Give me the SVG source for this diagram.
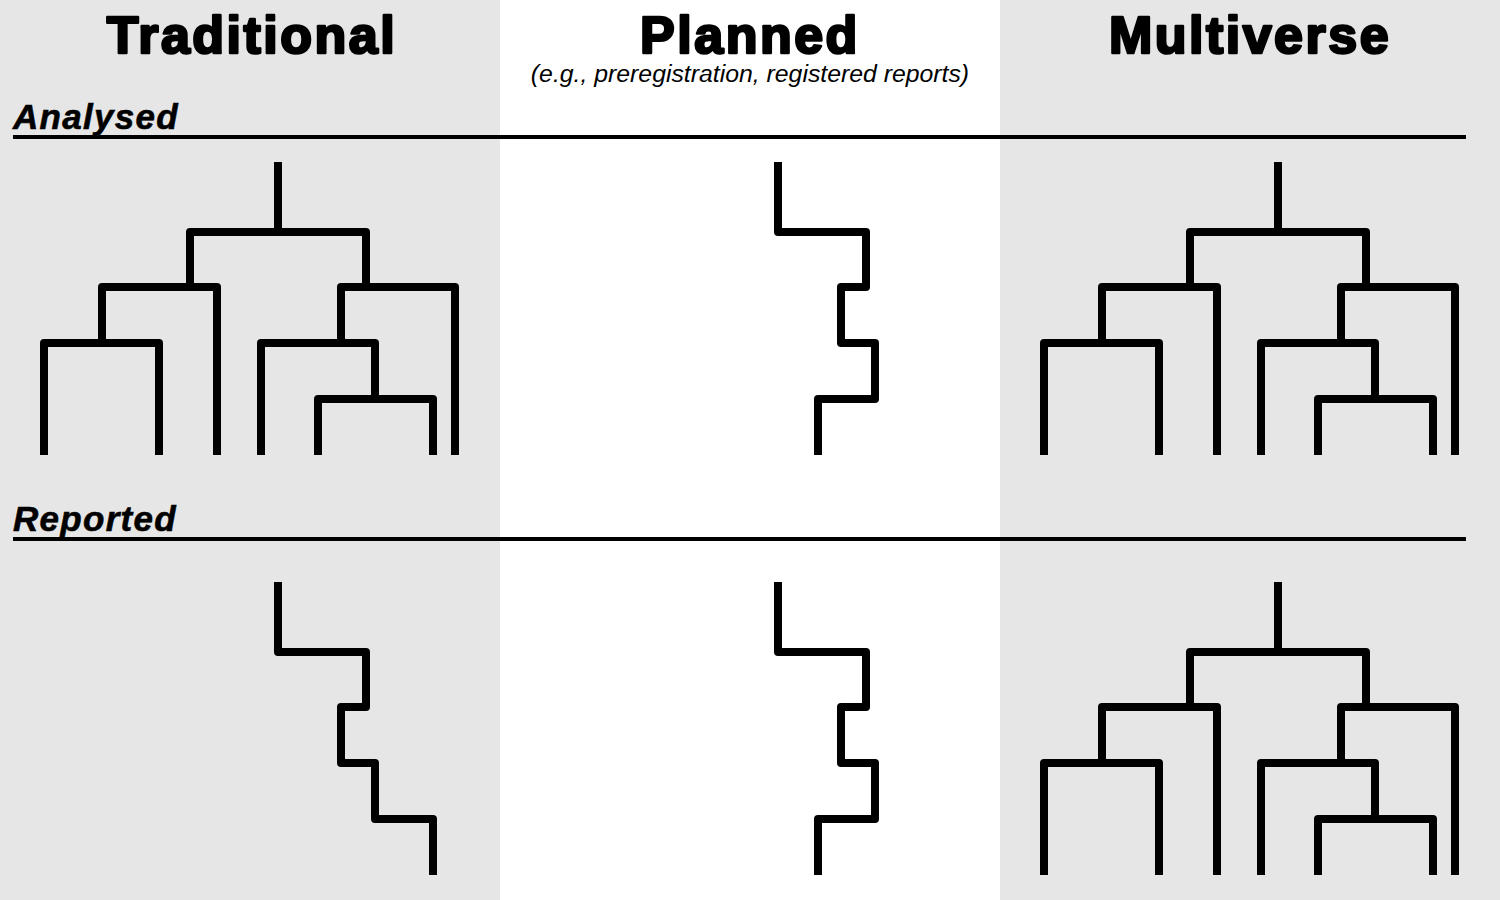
<svg xmlns="http://www.w3.org/2000/svg" xmlns:xlink="http://www.w3.org/1999/xlink" width="1500" height="900" viewBox="0 0 1500 900">
  <style>
    .bg { fill: #e6e6e6; }
    .title { font-family: "Liberation Sans", Arial, sans-serif; font-weight: bold; font-size: 52px; letter-spacing: 2.5px; fill: #000; stroke: #000; stroke-width: 2.6; stroke-linejoin: round; text-anchor: middle; }
    .sub { font-family: "Liberation Sans", Arial, sans-serif; font-style: italic; font-size: 24.8px; fill: #000; text-anchor: middle; }
    .row { font-family: "Liberation Sans", Arial, sans-serif; font-style: italic; font-weight: bold; font-size: 35px; letter-spacing: 1.3px; fill: #000; stroke: #000; stroke-width: 0.6; }
    .rule { stroke: #000; stroke-width: 4; fill: none; }
    .br { stroke: #000; stroke-width: 8; fill: none; stroke-linejoin: round; stroke-linecap: butt; }
  </style>
  <defs>
    <g id="fulltree">
      <path class="br" d="M278 162 V232"/>
      <path class="br" d="M190 287 V232 H366 V287"/>
      <path class="br" d="M102 343 V287 H217 V455"/>
      <path class="br" d="M44 455 V343 H159 V455"/>
      <path class="br" d="M341 343 V287 H455 V455"/>
      <path class="br" d="M261 455 V343 H375 V399"/>
      <path class="br" d="M318 455 V399 H433 V455"/>
    </g>
    <path id="planpath" class="br" d="M778 162 V232 H866 V287 H841 V343 H875 V399 H818 V455"/>
  </defs>

  <rect x="0" y="0" width="1500" height="900" fill="#ffffff"/>
  <rect class="bg" x="0" y="0" width="500" height="900"/>
  <rect class="bg" x="1000" y="0" width="500" height="900"/>

  <g id="headers">
    <text class="title" x="252" y="53">Traditional</text>
    <text class="title" x="750" y="53">Planned</text>
    <text class="sub" x="750" y="82">(e.g., preregistration, registered reports)</text>
    <text class="title" x="1250" y="53">Multiverse</text>
  </g>

  <g id="row-analysed">
    <text class="row" x="13" y="129">Analysed</text>
    <line class="rule" x1="13" y1="137" x2="1466" y2="137"/>
  </g>
  <g id="row-reported">
    <text class="row" x="13" y="531">Reported</text>
    <line class="rule" x1="13" y1="539" x2="1466" y2="539"/>
  </g>

  <g id="connectors">
    <g id="traditional-analysed"><use xlink:href="#fulltree"/></g>
    <g id="planned-analysed"><use xlink:href="#planpath"/></g>
    <g id="multiverse-analysed"><use xlink:href="#fulltree" transform="translate(1000,0)"/></g>
    <g id="traditional-reported"><path class="br" d="M278 582 V652 H366 V707 H341 V763 H375 V819 H433 V875"/></g>
    <g id="planned-reported"><use xlink:href="#planpath" transform="translate(0,420)"/></g>
    <g id="multiverse-reported"><use xlink:href="#fulltree" transform="translate(1000,420)"/></g>
  </g>
</svg>
